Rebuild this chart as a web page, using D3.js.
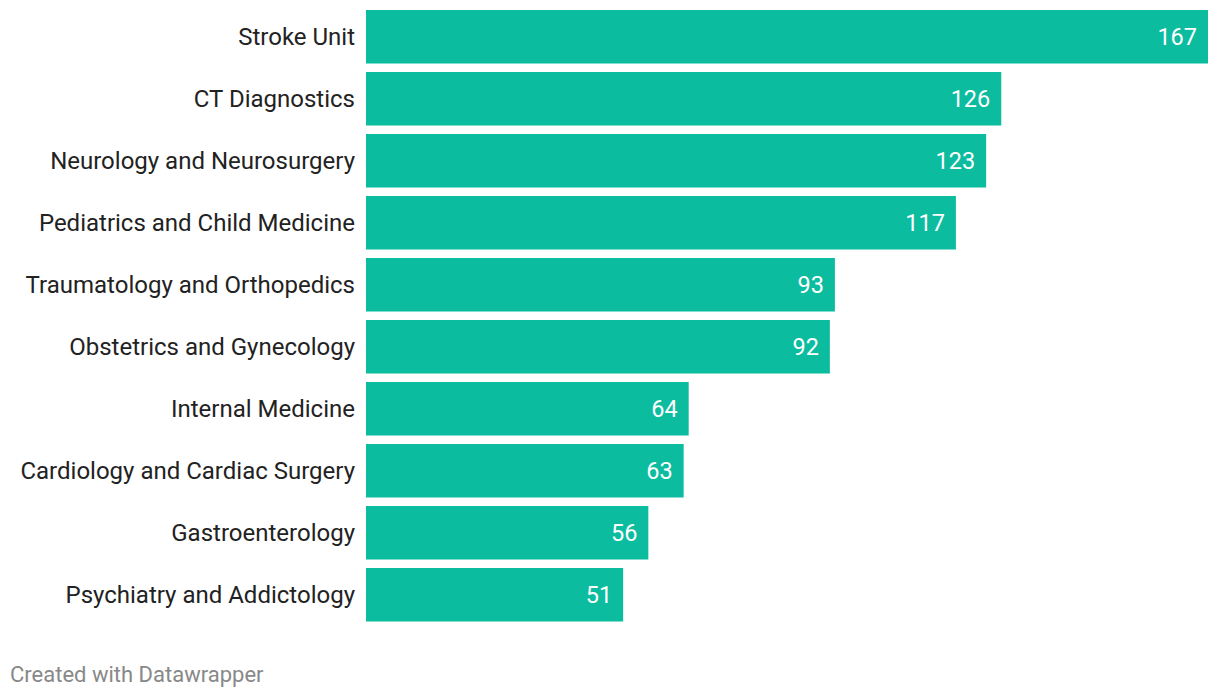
<!DOCTYPE html>
<html>
<head>
<meta charset="utf-8">
<script src="https://cdn.jsdelivr.net/npm/d3@7"></script>
<style>
  body { margin: 0; background: #fff; font-family: Roboto, sans-serif; }
</style>
</head>
<body>
<svg id="chart"></svg>
<script>
/* chart data */
var categories = ["Stroke Unit", "CT Diagnostics", "Neurology and Neurosurgery",
  "Pediatrics and Child Medicine", "Traumatology and Orthopedics", "Obstetrics and Gynecology",
  "Internal Medicine", "Cardiology and Cardiac Surgery", "Gastroenterology", "Psychiatry and Addictology"];
var values = [167, 126, 123, 117, 93, 92, 64, 63, 56, 51];

var width = 1220;
var height = 698;
var barLeft = 366;
var barRight = 1208;

var svg = d3.select('#chart')
    .attr('width', width)
    .attr('height', height);

var x = d3.scaleLinear().domain([0, 167]).range([barLeft, barRight]);
var y = d3.scaleBand()
    .domain(categories)
    .range([10, 621.5])
    .paddingInner(0.137)
    .paddingOuter(0);

var rows = svg.selectAll('g.row')
    .data(categories)
    .enter()
    .append('g')
    .attr('class', 'row');

rows.append('rect')
    .attr('x', x(0))
    .attr('y', function(d){ return y(d); })
    .attr('width', function(d, i){ return x(values[i]) - x(0); })
    .attr('height', y.bandwidth())
    .attr('fill', '#0bbc9f');

rows.append('text')
    .attr('x', barLeft - 11)
    .attr('y', function(d){ return y(d) + y.bandwidth() / 2; })
    .attr('dy', '0.35em')
    .attr('text-anchor', 'end')
    .attr('font-size', 24)
    .attr('fill', '#222')
    .text(function(d){ return d; });

rows.append('text')
    .attr('x', function(d, i){ return x(values[i]) - 11; })
    .attr('y', function(d){ return y(d) + y.bandwidth() / 2; })
    .attr('dy', '0.35em')
    .attr('text-anchor', 'end')
    .attr('font-size', 23.5)
    .attr('fill', '#fff')
    .text(function(d, i){ return values[i]; });

svg.append('text')
    .attr('x', 10)
    .attr('y', 682)
    .attr('font-size', 22)
    .attr('fill', '#888')
    .text('Created with Datawrapper');
</script>
</body>
</html>
